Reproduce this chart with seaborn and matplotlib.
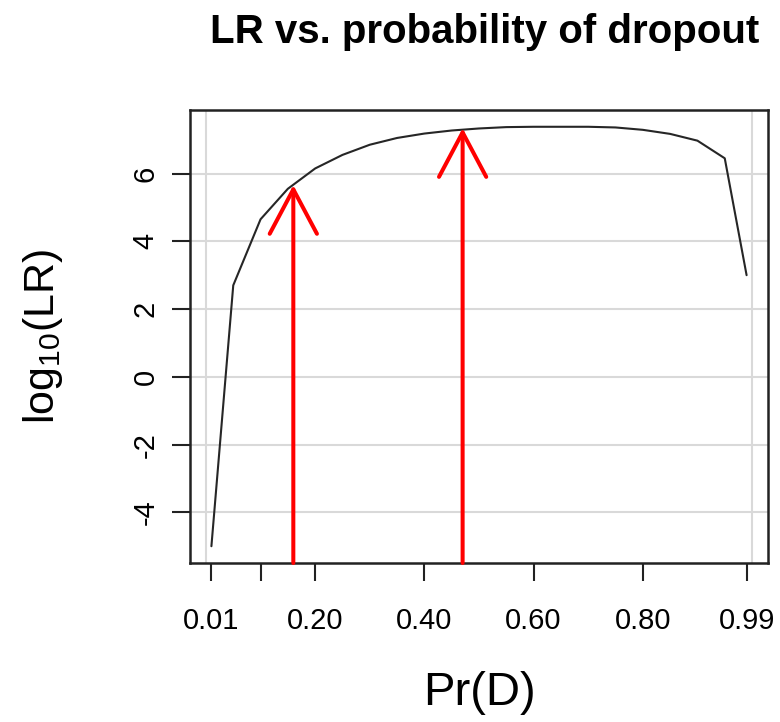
import seaborn as sns
import matplotlib.pyplot as plt

# Data
pr_d = [0.01, 0.05, 0.10, 0.15, 0.20, 0.25, 0.30, 0.35, 0.40, 0.45, 0.50,
        0.55, 0.60, 0.65, 0.70, 0.75, 0.80, 0.85, 0.90, 0.95, 0.99]
log_lr = [-5.0, 2.7, 4.65, 5.55, 6.15, 6.55, 6.85, 7.05, 7.18, 7.27, 7.33,
          7.37, 7.38, 7.38, 7.38, 7.36, 7.29, 7.17, 6.97, 6.45, 3.0]

# arrows marking two dropout values
arrow_x = [0.16, 0.47]
arrow_tip = [5.66, 7.34]

x_ticks = [0.01, 0.10, 0.20, 0.40, 0.60, 0.80, 0.99]
x_tick_labels = ['0.01', '', '0.20', '0.40', '0.60', '0.80', '0.99']
x_grid = [0.0, 0.2, 0.4, 0.6, 0.8, 1.0]
y_ticks = [-4, -2, 0, 2, 4, 6]

sns.set_theme(style='white')
plt.rcParams['font.family'] = ['Liberation Sans', 'DejaVu Sans']
plt.rcParams['mathtext.fontset'] = 'custom'
plt.rcParams['mathtext.rm'] = 'Liberation Sans'
plt.rcParams['text.color'] = 'black'
plt.rcParams['axes.labelcolor'] = 'black'
plt.rcParams['xtick.color'] = 'black'
plt.rcParams['ytick.color'] = 'black'

fig = plt.figure(figsize=(7.8, 7.22), dpi=100)
ax = fig.add_axes([190 / 780, 1 - 563 / 722, 578 / 780, 453 / 722])

sns.lineplot(x=pr_d, y=log_lr, color='#262626', linewidth=1.5,
             estimator=None, ax=ax)

# R style 4% padding on the axis range
xpad = (max(pr_d) - min(pr_d)) * 0.04
ypad = (max(log_lr) - min(log_lr)) * 0.04
ax.set_xlim(min(pr_d) - xpad, max(pr_d) + xpad)
ax.set_ylim(min(log_lr) - ypad, max(log_lr) + ypad)
ymin = ax.get_ylim()[0]

for x, tip in zip(arrow_x, arrow_tip):
    ax.annotate('', xy=(x, tip), xytext=(x, ymin),
                arrowprops=dict(arrowstyle='->,head_length=3.2,head_width=1.7',
                                color='#ff0000', lw=2.9, mutation_scale=10,
                                shrinkA=0, shrinkB=0))

ax.set_xticks(x_ticks)
ax.set_xticklabels(x_tick_labels)
ax.set_xticks(x_grid, minor=True)
ax.set_yticks(y_ticks)
ax.set_yticklabels([str(v) for v in y_ticks], rotation=90, va='center')

ax.grid(False)
ax.xaxis.grid(True, which='minor', color='#d9d9d9', linewidth=1.5)
ax.yaxis.grid(True, which='major', color='#d9d9d9', linewidth=1.5)
ax.set_axisbelow(True)

ax.tick_params(which='major', direction='out', length=13, width=1.5,
               color='#222222', labelsize=21, bottom=True, left=True)
ax.tick_params(axis='x', which='major', pad=19)
ax.tick_params(axis='y', which='major', pad=9)
ax.tick_params(which='minor', length=0)
for s in ax.spines.values():
    s.set_color('#222222')
    s.set_linewidth(1.8)

ax.set_title('LR vs. probability of dropout', fontsize=29, fontweight='bold',
             pad=48, x=0.51)
ax.set_xlabel('Pr(D)', fontsize=34, va='center')
ax.set_ylabel(r'log$_{\mathrm{10}}$(LR)', fontsize=31, va='center')
ax.xaxis.set_label_coords(0.5, -0.286)
ax.yaxis.set_label_coords(-0.255, 0.5)

plt.savefig('out.png', dpi=100)
